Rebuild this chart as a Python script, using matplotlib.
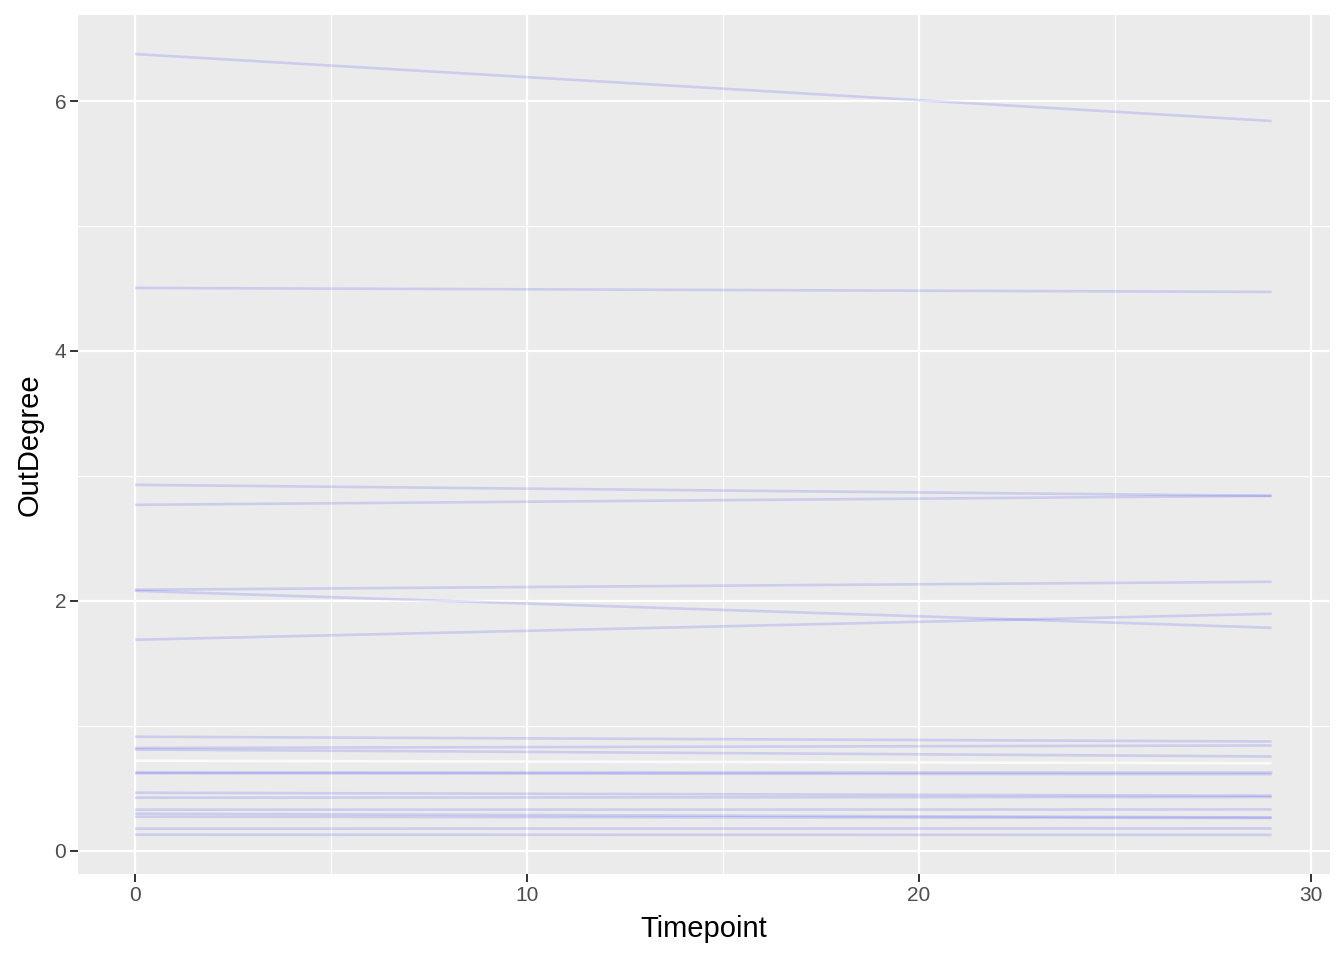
import numpy as np
import matplotlib
matplotlib.use("Agg")
import matplotlib.pyplot as plt

plt.rcParams['font.family'] = ['Liberation Sans', 'DejaVu Sans']

# timepoints at the two ends of every line
timepoints = [0, 29]

# out-degree at the first and last timepoint, one pair per series
start_vals = [6.376, 4.504, 2.928, 2.768, 2.088, 2.080, 1.688,
              0.912, 0.822, 0.810, 0.630, 0.620, 0.464, 0.424,
              0.328, 0.296, 0.272, 0.176, 0.128]
end_vals = [5.840, 4.472, 2.840, 2.840, 2.152, 1.784, 1.896,
            0.874, 0.842, 0.754, 0.630, 0.612, 0.440, 0.430,
            0.330, 0.266, 0.262, 0.178, 0.126]

# one pale line near 0.7
white_start = 0.72
white_end = 0.70

fig = plt.figure(figsize=(13.44, 9.6), dpi=100)
ax = fig.add_axes([0.058, 0.0896, 0.9316, 0.8948])
ax.set_facecolor('#EBEBEB')

for s, e in zip(start_vals, end_vals):
    ax.plot(timepoints, [s, e], color='#0000FF', alpha=0.13, lw=1.9,
            solid_capstyle='butt', zorder=3)
ax.plot(timepoints, [white_start, white_end], color='white', alpha=0.8,
        lw=1.9, solid_capstyle='butt', zorder=3)

# ggplot-style expansion
xlo, xhi = min(timepoints), max(timepoints)
xpad = 0.05 * (xhi - xlo)
ax.set_xlim(xlo - xpad, xhi + xpad + 0.04)
allv = start_vals + end_vals
ylo, yhi = min(allv), max(allv)
ypad = 0.05 * (yhi - ylo)
ax.set_ylim(ylo - ypad, yhi + ypad)

ax.set_xticks([0, 10, 20, 30])
ax.set_yticks([0, 2, 4, 6])
ax.set_xticks([5, 15, 25], minor=True)
ax.set_yticks([1, 3, 5], minor=True)
ax.grid(which='major', color='white', lw=1.6, zorder=1)
ax.grid(which='minor', color='white', lw=0.8, zorder=1)
ax.set_axisbelow(True)

for sp in ax.spines.values():
    sp.set_visible(False)

ax.tick_params(which='major', length=5.5, width=1.4, color='#333333',
               labelsize=15, labelcolor='#4D4D4D', pad=3)
ax.tick_params(which='minor', length=0)

ax.set_xlabel('Timepoint', fontsize=21, color='black', labelpad=7)
ax.set_ylabel('OutDegree', fontsize=21, color='black', labelpad=8)

fig.savefig('out.png', dpi=100, facecolor='white')
